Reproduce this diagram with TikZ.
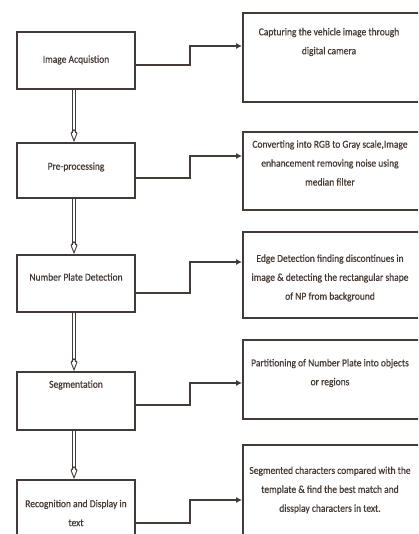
\documentclass[tikz,border=0pt]{standalone}
\usepackage{fontspec}
\setmainfont{Carlito}
\newfontfamily\diafont{Carlito}[FakeStretch=0.9, FakeBold=0.6]
\usetikzlibrary{arrows.meta,calc}
\definecolor{linec}{HTML}{433B37}
\definecolor{textc}{HTML}{463A34}
\begin{document}
\begin{tikzpicture}[x=1bp,y=-1bp,
  lbox/.style={draw=linec, line width=1.8bp, minimum width=118bp, inner sep=0pt},
  rbox/.style={draw=linec, line width=1.8bp, minimum width=187bp, inner sep=0pt},
  txt/.style={text=textc, font=\diafont\fontsize{10.6}{19}\selectfont, align=center, inner sep=0pt},
  conn/.style={draw=linec, line width=1.5bp, -{Latex[length=6bp,width=6bp]}},
  dbl/.style={draw=linec, line width=0.9bp, double=white, double distance=2.6bp,
     -{Kite[open, width=7bp, length=13bp, inset=4bp, line width=0.9bp]}}]
\useasboundingbox (0,0) rectangle (418,534);
\clip (0,0) rectangle (418,534);
\fill[white] (0,0) rectangle (418,534);
% left boxes
\node[lbox, minimum height=57bp] (b1) at (76,60.5) {};
\node[lbox, minimum height=55bp] (b2) at (76,170.5) {};
\node[lbox, minimum height=57bp] (b3) at (76,283.5) {};
\node[lbox, minimum height=58bp] (b4) at (76,401) {};
\node[lbox, minimum height=60bp] (b5) at (76,510) {};
% right boxes
\node[rbox, minimum height=89bp] (r1) at (336.5,57.5) {};
\node[rbox, minimum height=78bp] (r2) at (336.5,171) {};
\node[rbox, minimum height=86bp] (r3) at (336.5,275) {};
\node[rbox, minimum height=79bp] (r4) at (336.5,379.5) {};
\node[rbox, minimum height=115bp] (r5) at (336.5,502.5) {};
% texts
\node[txt] (t1) at (76,60) {Image Acquistion};
\node[txt] (t2) at (76,167) {Pre-processing};
\node[txt] (t3) at (76,277) {Number Plate Detection};
\node[txt] (t4) at (76,385) {Segmentation};
\node[txt] (t5) at (76,513) {Recognition and Display in\\text};
\node[txt] (u1) at (329,42) {Capturing the vehicle image through\\digital camera};
\node[txt] (u2) at (330,163) {Converting into RGB to Gray scale,Image\\enhancement removing noise using\\median filter};
\node[txt] (u3) at (330,278) {Edge Detection finding discontinues in\\image \& detecting the rectangular shape\\of NP from background};
\node[txt] (u4) at (330,373) {Partitioning of Number Plate into objects\\or regions};
\node[txt] (u5) at (330,490) {Segmented characters compared with the\\template \& find the best match and\\dissplay characters in text.};
% side connectors
\draw[conn] (b1.east |- 0,65) -| (190,46) -- (r1.west |- 0,46);
\draw[conn] (b2.east |- 0,178) -| (190,156) -- (r2.west |- 0,156);
\draw[conn] (b3.east |- 0,293) -| (190,262) -- (r3.west |- 0,262);
\draw[conn] (b4.east |- 0,405) -| (190,383) -- (r4.west |- 0,383);
\draw[conn] (b5.east |- 0,523) -| (190,500) -- (r5.west |- 0,500);
% double arrows
\draw[dbl] ($(b1.south)+(-2,0)$) -- ($(b2.north)+(-2,0)$);
\draw[dbl] ($(b2.south)+(-2,0)$) -- ($(b3.north)+(-2,0)$);
\draw[dbl] ($(b3.south)+(-2,0)$) -- ($(b4.north)+(-2,0)$);
\draw[dbl] ($(b4.south)+(-2,0)$) -- ($(b5.north)+(-2,0)$);
\end{tikzpicture}
\end{document}
